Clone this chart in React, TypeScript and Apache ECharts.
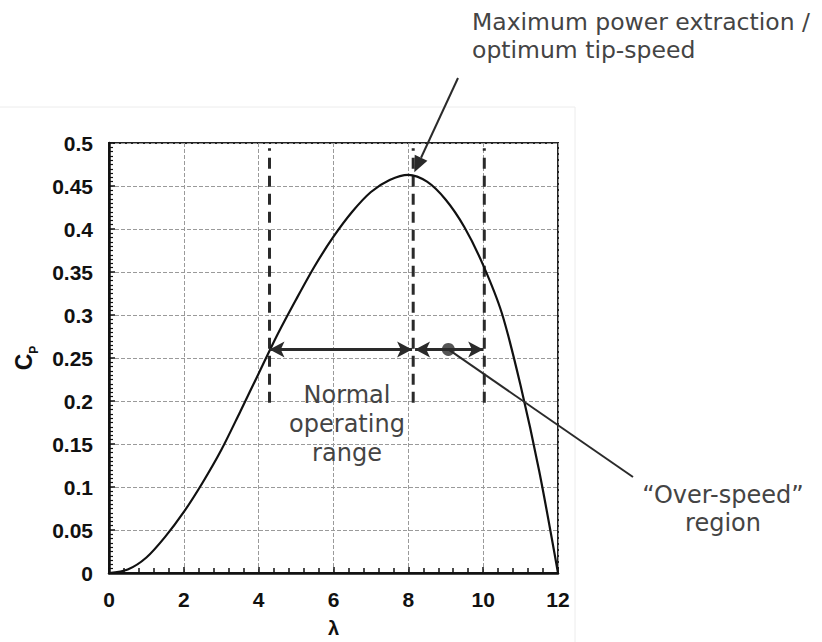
import React, { useEffect, useRef } from "react";
import * as echarts from "echarts";

// Cp–λ curve
const lambdaVals = [0, 0.5, 1, 1.5, 2, 2.5, 3, 3.5, 4, 4.5, 5, 5.5, 6, 6.5, 7, 7.5, 8, 8.5, 9, 9.5, 10, 10.5, 11, 11.5, 12];
const cpVals = [0, 0.004, 0.018, 0.042, 0.071, 0.105, 0.143, 0.187, 0.232, 0.277, 0.318, 0.357, 0.391, 0.42, 0.443, 0.457, 0.463, 0.455, 0.434, 0.402, 0.358, 0.302, 0.218, 0.118, 0];

// Operating-range boundaries (λ) and their dashed extent (Cp)
const boundaries = [4.29, 8.13, 10.03];
const boundaryCp = [0.198, 0.494];

// Double arrows
const arrowCp = 0.26;
const normalRange = [4.29, 8.1];
const overRange = [8.18, 10.0];
const overDot = [9.07, 0.26];
const peakPoint = [8.16, 0.466];

const xTicks = [0, 12, 2];
const yTicks = [0, 0.5, 0.05];

const normalText = "Normal\noperating\nrange";
const maxText = "Maximum power extraction /\noptimum tip-speed";
const overText = "\u201cOver-speed\u201d\nregion";

export default function App() {
  const ref = useRef<HTMLDivElement>(null);
  useEffect(() => {
    document.body.style.margin = "0";
    const chart = echarts.init(ref.current!, null, { renderer: "svg" });
    const axisFont = { fontFamily: "Liberation Sans", fontWeight: "bold" as const, fontSize: 21, color: "#111" };
    const dashedSeries = boundaries.map((b, i) => ({
      type: "line",
      name: "b" + i,
      data: [[b, boundaryCp[0]], [b, boundaryCp[1]]],
      symbol: "none",
      lineStyle: { color: "#2a2a2a", width: 3, type: [11, 7] },
      z: 3,
    }));
    const option: any = {
      animation: false,
      grid: {
        left: 109, top: 143, right: 264, bottom: 69, containLabel: false, outerBoundsMode: "none",
        show: true, borderColor: "#222", borderWidth: 2, backgroundColor: "transparent",
      },
      xAxis: {
        type: "value", min: xTicks[0], max: xTicks[1], interval: xTicks[2],
        name: "λ", nameLocation: "middle", nameGap: 45,
        nameTextStyle: { ...axisFont, fontSize: 20 },
        axisLine: { lineStyle: { color: "#111", width: 2.5 } },
        axisTick: { inside: true, length: 6, lineStyle: { color: "#111", width: 1.5 } },
        minorTick: { show: true, splitNumber: 5, length: 5, lineStyle: { color: "#111", width: 1.5 } },
        axisLabel: { ...axisFont, margin: 16 },
        splitLine: { show: true, lineStyle: { color: "#9a9a9a", width: 1, type: [4, 2] } },
      },
      yAxis: {
        type: "value", min: yTicks[0], max: yTicks[1], interval: yTicks[2],
        name: "{c|C}{p|P}", nameLocation: "middle", nameGap: 74, nameRotate: 90,
        nameTextStyle: { rich: { c: { ...axisFont, fontSize: 23 }, p: { ...axisFont, fontSize: 12, verticalAlign: "bottom", padding: [0, 0, -5, 0] } } },
        axisLine: { lineStyle: { color: "#111", width: 2.5 } },
        axisTick: { inside: true, length: 6, lineStyle: { color: "#111", width: 1.5 } },
        minorTick: { show: true, splitNumber: 10, length: 4, lineStyle: { color: "#111", width: 1.2 } },
        axisLabel: { ...axisFont, margin: 16, formatter: (v: number) => String(+v.toFixed(2)) },
        splitLine: { show: true, lineStyle: { color: "#9a9a9a", width: 1, type: [4, 2] } },
      },
      series: [
        {
          type: "line", name: "Cp",
          data: lambdaVals.map((l, i) => [l, cpVals[i]]),
          smooth: 0.3, symbol: "none",
          lineStyle: { color: "#111", width: 2.2 }, z: 4,
        },
        ...dashedSeries,
        {
          type: "line", name: "arrows", data: [], symbol: "none",
          markLine: {
            silent: true, symbol: ["arrow", "arrow"], symbolSize: [12, 15],
            label: { show: false },
            lineStyle: { color: "#2a2a2a", width: 3, type: "solid" },
            data: [
              [{ coord: [normalRange[0], arrowCp] }, { coord: [normalRange[1], arrowCp] }],
              [{ coord: [overRange[0], arrowCp] }, { coord: [overRange[1], arrowCp] }],
            ],
          },
          z: 5,
        },
        {
          type: "scatter", name: "dot", data: [overDot], symbolSize: 13,
          itemStyle: { color: "#2a2a2a" }, z: 6,
        },
      ],
    };
    chart.setOption(option);

    const dot = chart.convertToPixel({ gridIndex: 0 }, overDot) as number[];
    const peak = chart.convertToPixel({ gridIndex: 0 }, peakPoint) as number[];
    const tail = [458, 78];
    const dx = peak[0] - tail[0], dy = peak[1] - tail[1];
    const len = Math.hypot(dx, dy);
    const ux = dx / len, uy = dy / len;
    const ah = 16, aw = 7;
    const base = [peak[0] - ux * ah, peak[1] - uy * ah];
    const txtStyle = { fontFamily: "DejaVu Sans", fontSize: 23.5, fill: "#444", lineHeight: 28 };

    chart.setOption({
      graphic: [
        { type: "line", shape: { x1: 0, y1: 107, x2: 575, y2: 107 }, style: { stroke: "#ececec", lineWidth: 1 }, silent: true },
        { type: "line", shape: { x1: 575, y1: 107, x2: 575, y2: 642 }, style: { stroke: "#ececec", lineWidth: 1 }, silent: true },
        { type: "line", shape: { x1: tail[0], y1: tail[1], x2: base[0], y2: base[1] }, style: { stroke: "#2a2a2a", lineWidth: 2 }, z: 10 },
        {
          type: "polygon",
          shape: { points: [peak, [base[0] + uy * aw, base[1] - ux * aw], [base[0] - uy * aw, base[1] + ux * aw]] },
          style: { fill: "#2a2a2a" }, z: 10,
        },
        { type: "line", shape: { x1: dot[0], y1: dot[1], x2: 633, y2: 477 }, style: { stroke: "#2a2a2a", lineWidth: 2 }, z: 10 },
        { type: "text", x: 472, y: 8, style: { ...txtStyle, text: maxText, align: "left" }, z: 10 },
        { type: "text", x: 347, y: 380, style: { ...txtStyle, text: normalText, align: "center", fontSize: 24, lineHeight: 29 }, z: 10 },
        { type: "text", x: 723, y: 481, style: { ...txtStyle, text: overText, align: "center", fontSize: 24 }, z: 10 },
      ],
    });
    return () => chart.dispose();
  }, []);
  return <div ref={ref} style={{ width: 822, height: 642 }} />;
}
